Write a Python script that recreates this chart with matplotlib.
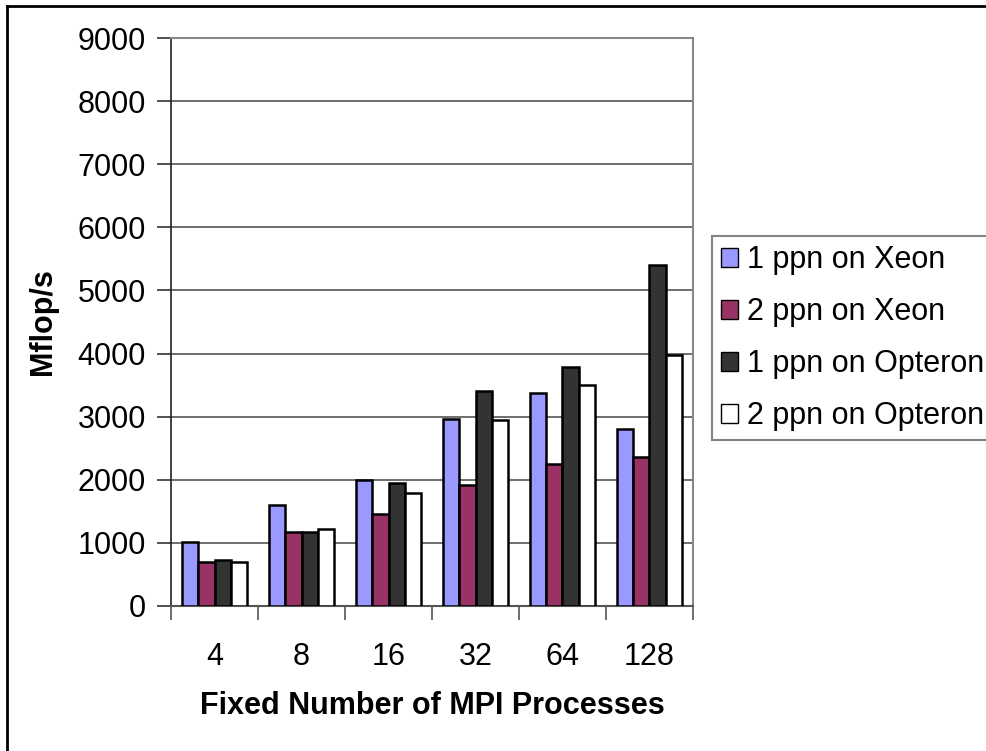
import numpy as np
import matplotlib.pyplot as plt
from matplotlib.lines import Line2D

plt.rcParams['font.family'] = ['Liberation Sans', 'DejaVu Sans']

# Rendimiento medido para cada numero de procesos MPI
procs = ['4', '8', '16', '32', '64', '128']
xeon_1ppn = [1010, 1590, 2000, 2960, 3380, 2800]
xeon_2ppn = [700, 1170, 1460, 1910, 2250, 2360]
opteron_1ppn = [730, 1170, 1940, 3400, 3790, 5400]
opteron_2ppn = [700, 1210, 1780, 2950, 3500, 3980]

series = [xeon_1ppn, xeon_2ppn, opteron_1ppn, opteron_2ppn]
labels = ['1 ppn on Xeon', '2 ppn on Xeon', '1 ppn on Opteron', '2 ppn on Opteron']
colors = ['#9999ff', '#993366', '#333333', '#ffffff']

fig = plt.figure(figsize=(9.87, 7.51), dpi=100)
ax = fig.add_axes([0.1733, 0.1935, 0.5288, 0.7555])

x = np.arange(len(procs))
w = 0.185
for k, (vals, lab, col) in enumerate(zip(series, labels, colors)):
    ax.bar(x + (k - 1.5) * w, vals, w, color=col, edgecolor='black',
           linewidth=1.8, label=lab, zorder=3)

ax.set_xlim(-0.5, len(procs) - 0.5)
ax.set_ylim(0, 9000)
ax.set_yticks(np.arange(0, 9001, 1000))
ax.yaxis.grid(True, color='#555555', linewidth=1.2, zorder=0)

# Ticks del eje x entre categorias
ax.set_xticks(np.arange(-0.5, len(procs), 1.0), minor=False)
ax.set_xticklabels([])
ax.set_xticks(x, minor=True)
ax.set_xticklabels(procs, minor=True)
ax.tick_params(axis='x', which='major', length=10, width=1.2, color='#555555', direction='out')
ax.tick_params(axis='x', which='minor', length=0, labelsize=22, pad=26)
ax.tick_params(axis='y', length=10, width=1.2, color='#333333', labelsize=22, pad=8)

for side in ['top', 'right']:
    ax.spines[side].set_color('#888888')
    ax.spines[side].set_linewidth(1.5)
ax.spines['left'].set_color('#222222')
ax.spines['bottom'].set_color('#555555')
ax.spines['left'].set_linewidth(1.2)
ax.spines['bottom'].set_linewidth(1.5)

ax.set_xlabel('Fixed Number of MPI Processes', fontsize=22, fontweight='bold', labelpad=14)
ax.set_ylabel('Mflop/s', fontsize=22, fontweight='bold', labelpad=14)

leg = fig.legend(loc='upper left', bbox_to_anchor=(712 / 987, 1 - 236 / 751),
                 fontsize=22, frameon=True, fancybox=False, handlelength=0.55,
                 handleheight=0.55, handletextpad=0.3, labelspacing=0.72,
                 borderpad=0.3, borderaxespad=0)
leg.get_frame().set_edgecolor('#666666')
leg.get_frame().set_linewidth(1.5)
for h in leg.legend_handles:
    h.set_linewidth(1.0)

# Borde del grafico
fig.add_artist(Line2D([7 / 987, 7 / 987], [0, 1 - 6 / 751], color='black', linewidth=2))
fig.add_artist(Line2D([7 / 987, 1], [1 - 6 / 751, 1 - 6 / 751], color='black', linewidth=2))

fig.savefig('out.png', dpi=100)
